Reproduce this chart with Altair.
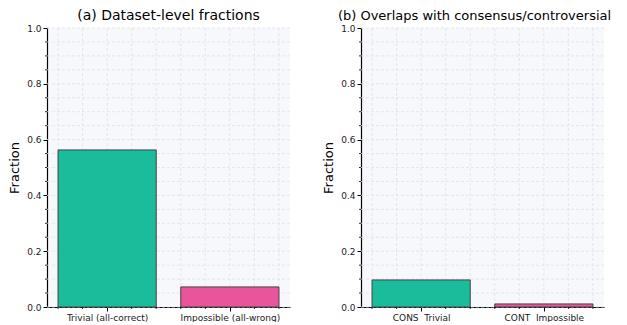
import altair as alt
import pandas as pd

# ---- data ----
cats_a = ["Trivial (all-correct)", "Impossible (all-wrong)"]
vals_a = [0.563, 0.072]
cats_b = ["CONS\u00a0 Trivial", "CONT\u00a0 Impossible"]
vals_b = [0.097, 0.011]
bar_colors = ["#1abc9c", "#e8559a"]
positions = [0, 1]
titles = ["(a) Dataset-level fractions", "(b) Overlaps with consensus/controversial"]

y_major = [0.0, 0.2, 0.4, 0.6, 0.8, 1.0]
y_minor = [0.05, 0.1, 0.15, 0.25, 0.3, 0.35, 0.45, 0.5, 0.55,
           0.65, 0.7, 0.75, 0.85, 0.9, 0.95]
y_grid = [0.0, 0.05, 0.1, 0.15, 0.2, 0.25, 0.3, 0.35, 0.4, 0.45, 0.5,
          0.55, 0.6, 0.65, 0.7, 0.75, 0.8, 0.85, 0.9, 0.95, 1.0]
x_minor = [-0.4, -0.2, 0.2, 0.4, 0.6, 0.8, 1.2, 1.4]
x_grid = [-0.4, -0.2, 0.0, 0.2, 0.4, 0.6, 0.8, 1.0, 1.2, 1.4]

W, H = 243, 279
FONT = "DejaVu Sans"


def panel(cats, vals, title, tsize, tdx):
    df = pd.DataFrame({"cat": cats, "val": vals, "pos": positions, "color": bar_colors})
    xs = alt.Scale(domain=[-0.49, 1.49], nice=False, zero=False)
    ys = alt.Scale(domain=[0, 1], nice=False)
    label_expr = " : ".join(
        f"datum.value == {p} ? '{c}'" for p, c in zip(positions, cats)
    ) + " : ''"

    x_axis = alt.Axis(
        values=positions, labelExpr=label_expr, title=None, grid=False,
        tickSize=4, labelPadding=2, domainWidth=1.2, tickWidth=1,
        labelFontSize=9, labelAngle=0)
    y_axis = alt.Axis(
        values=y_major, format=".1f", title="Fraction", grid=False,
        tickSize=4, labelPadding=2, titlePadding=5, domainWidth=1.2,
        tickWidth=1, labelFontSize=9, titleFontSize=13)

    gx = alt.Chart(pd.DataFrame({"g": x_grid})).mark_rule(
        color="#dfe1ea", strokeWidth=0.8, strokeDash=[3, 2]
    ).encode(x=alt.X("g:Q", scale=xs, axis=x_axis))
    gy = alt.Chart(pd.DataFrame({"g": y_grid})).mark_rule(
        color="#dfe1ea", strokeWidth=0.8, strokeDash=[3, 2]
    ).encode(y=alt.Y("g:Q", scale=ys, axis=y_axis))

    bars = alt.Chart(df).transform_calculate(
        x0="datum.pos - 0.4", x1="datum.pos + 0.4", base="0"
    ).mark_rect(stroke="#444444", strokeWidth=1).encode(
        x=alt.X("x0:Q", scale=xs, axis=x_axis),
        x2="x1:Q",
        y=alt.Y("val:Q", scale=ys, axis=y_axis),
        y2="base:Q",
        color=alt.Color("color:N", scale=None),
    )

    my = alt.Chart(pd.DataFrame({"m": y_minor})).mark_rule(
        color="black", strokeWidth=0.8
    ).encode(y=alt.Y("m:Q", scale=ys, axis=y_axis), x=alt.value(-2), x2=alt.value(0))
    mx = alt.Chart(pd.DataFrame({"m": x_minor})).mark_rule(
        color="black", strokeWidth=0.8
    ).encode(x=alt.X("m:Q", scale=xs, axis=x_axis), y=alt.value(H), y2=alt.value(H + 2))

    return alt.layer(gx, gy, bars, my, mx).properties(
        width=W, height=H,
        title=alt.Title(title, font=FONT, fontSize=tsize, fontWeight="normal",
                        anchor="middle", offset=1, dx=tdx, color="black"),
    )


chart = alt.hconcat(
    panel(cats_a, vals_a, titles[0], 14, 0),
    panel(cats_b, vals_b, titles[1], 13, -8),
    spacing=31,
).properties(
    padding={"left": 0, "top": 1, "right": 0, "bottom": 0}
).configure_view(fill="#f7f8fc", stroke=None).configure_axis(
    domainColor="black", tickColor="black", labelColor="#222222",
    labelFont=FONT, titleFont=FONT, titleFontWeight="normal", titleColor="black",
)

chart.save("out.html", embed_options={"renderer": "svg", "actions": False})
